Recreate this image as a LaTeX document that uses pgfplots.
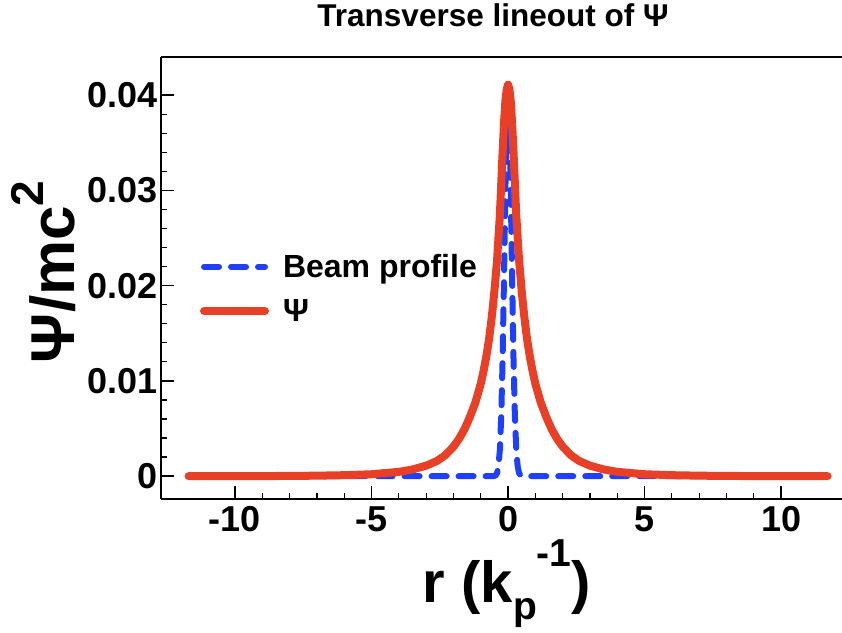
\documentclass[border=0pt]{standalone}
\usepackage{fontspec}
\setmainfont{Liberation Sans}
\usepackage{pgfplots}
\pgfplotsset{compat=1.18}

\definecolor{beamblue}{RGB}{30,64,250}
\definecolor{psired}{RGB}{232,64,38}

% Gaussian beam density (scaled) and the resulting wake potential
\pgfplotstableread{
r       v
-11.70  0
-6.00   0
-2.00   0
-1.00   0
-0.60   0
-0.50   0.00002
-0.45   0.00010
-0.40   0.00035
-0.35   0.00107
-0.30   0.00279
-0.25   0.00630
-0.20   0.01225
-0.15   0.02056
-0.10   0.02976
-0.05   0.03715
 0.00   0.04000
 0.05   0.03715
 0.10   0.02976
 0.15   0.02056
 0.20   0.01225
 0.25   0.00630
 0.30   0.00279
 0.35   0.00107
 0.40   0.00035
 0.45   0.00010
 0.50   0.00002
 0.60   0
 1.00   0
 2.00   0
 6.00   0
 11.70  0
}\beamtable

\pgfplotstableread{
r       v
-11.70  0
-10.00  0
-8.00   0.00002
-7.00   0.00005
-6.00   0.00010
-5.00   0.00020
-4.00   0.00045
-3.50   0.00070
-3.00   0.00110
-2.60   0.00160
-2.30   0.00220
-2.00   0.00310
-1.80   0.00390
-1.60   0.00490
-1.40   0.00620
-1.20   0.00770
-1.00   0.00970
-0.90   0.01100
-0.80   0.01250
-0.70   0.01430
-0.60   0.01660
-0.50   0.01940
-0.40   0.02280
-0.30   0.02740
-0.20   0.03400
-0.15   0.03700
-0.10   0.03930
-0.05   0.04060
 0.00   0.04110
 0.05   0.04060
 0.10   0.03930
 0.15   0.03700
 0.20   0.03400
 0.30   0.02740
 0.40   0.02280
 0.50   0.01940
 0.60   0.01660
 0.70   0.01430
 0.80   0.01250
 0.90   0.01100
 1.00   0.00970
 1.20   0.00770
 1.40   0.00620
 1.60   0.00490
 1.80   0.00390
 2.00   0.00310
 2.30   0.00220
 2.60   0.00160
 3.00   0.00110
 3.50   0.00070
 4.00   0.00045
 5.00   0.00020
 6.00   0.00010
 7.00   0.00005
 8.00   0.00002
 10.00  0
 11.70  0
}\psitable

\begin{document}
\begin{tikzpicture}
\begin{axis}[
  scale only axis,
  width=681pt, height=442pt,
  xmin=-12.71, xmax=12.23,
  ymin=-0.0024, ymax=0.044,
  axis x line=box, axis y line=left,
  x axis line style={-}, y axis line style={-},
  axis line style={line width=2pt, black},
  xtick pos=bottom, ytick pos=left,
  tick align=inside,
  major tick length=13pt, minor tick length=6pt,
  every major tick/.append style={black, line width=1.6pt},
  every minor tick/.append style={black, line width=1.2pt},
  xtick={-10,-5,0,5,10}, minor x tick num=4,
  ytick={0,0.01,0.02,0.03,0.04}, minor y tick num=4,
  scaled y ticks=false,
  yticklabel style={/pgf/number format/.cd, fixed, precision=2},
  /pgf/number format/assume math mode=true,
  ticklabel style={font=\fontsize{36}{43}\selectfont\bfseries},
  xticklabel style={yshift=-4pt},
  title={Transverse lineout of Ψ},
  title style={at={(rel axis cs:0.4875,1)}, anchor=base, yshift=24pt,
    inner sep=0pt, font=\fontsize{31.5}{37}\selectfont\bfseries},
  xlabel={r (k\raisebox{-0.28em}{\fontsize{39}{46}\selectfont p}\raisebox{0.62em}{\fontsize{39}{46}\selectfont -1})},
  xlabel style={at={(rel axis cs:0.508,-0.235)}, anchor=base, inner sep=0pt,
    font=\fontsize{58}{68}\selectfont\bfseries},
  ylabel={Ψ/mc\raisebox{0.5em}{\fontsize{46}{54}\selectfont 2}},
  ylabel style={at={(rel axis cs:-0.125,0.514)}, anchor=south, inner sep=0pt,
    font=\fontsize{62}{72}\selectfont\bfseries},
  legend style={at={(rel axis cs:0.057,0.476)}, anchor=west,
    draw=none, fill=none, inner sep=0pt, row sep=20pt,
    font=\fontsize{32}{38}\selectfont\bfseries,
    nodes={inner sep=0pt},
    /tikz/every odd column/.style={column sep=14pt}},
  legend cell align=left,
  legend image code/.code={\draw[#1] (0pt,0pt) -- (61pt,0pt);},
]
\addplot[beamblue, line width=6pt, line cap=round, dash pattern=on 15pt off 12pt]
  table[x=r, y=v] {\beamtable};
\addlegendentry{Beam profile}
\addplot[psired, line width=8pt, line cap=round, line join=round]
  table[x=r, y=v] {\psitable};
\addlegendentry{Ψ}
\coordinate (sw) at (rel axis cs:0,0);
\end{axis}
\pgfresetboundingbox
\path ([shift={(-161pt,-133pt)}]sw) rectangle ([shift={(681pt,499pt)}]sw);
\end{tikzpicture}
\end{document}
